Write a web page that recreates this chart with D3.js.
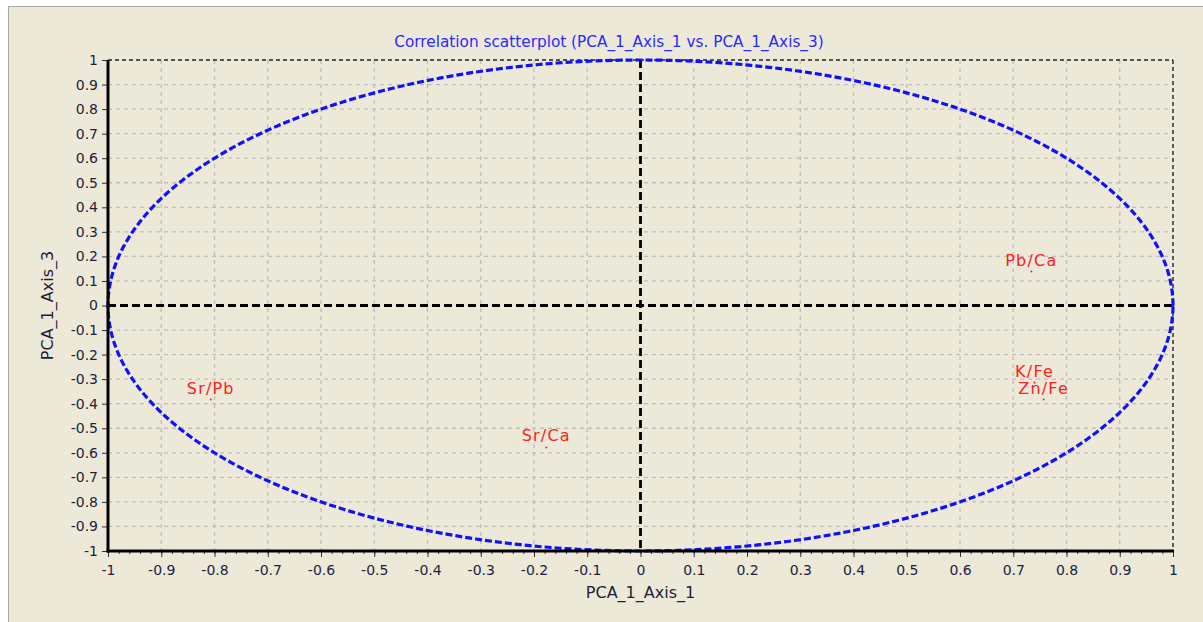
<!DOCTYPE html>
<html><head><meta charset="utf-8">
<script src="https://cdn.jsdelivr.net/npm/d3@7"></script>
<style>
html,body{margin:0;padding:0;background:#fff;}
svg{display:block;}
</style></head>
<body>
<script>
const labels = ["Pb/Ca", "K/Fe", "Zn/Fe", "Sr/Pb", "Sr/Ca"];
const axis1 = [0.734, 0.74, 0.757, -0.807, -0.177];
const axis3 = [0.138, -0.314, -0.383, -0.383, -0.578];
const majorTicks = d3.range(-10, 11).map(d => d / 10);
const minorTicks = d3.range(-50, 51).map(d => d / 50);
const title = "Correlation scatterplot (PCA_1_Axis_1 vs. PCA_1_Axis_3)";
const xTitle = "PCA_1_Axis_1", yTitle = "PCA_1_Axis_3";

const W = 1203, H = 622;
const svg = d3.select("body").append("svg").attr("width", W).attr("height", H);
svg.append("rect").attr("x", 0).attr("y", 0).attr("width", W).attr("height", H).attr("fill", "#fff");
svg.append("rect").attr("x", 8).attr("y", 6).attr("width", W - 8).attr("height", H - 6).attr("fill", "#ECE9D8");
svg.append("line").attr("x1", 8).attr("x2", W).attr("y1", 6.5).attr("y2", 6.5).attr("stroke", "#ACA899").attr("stroke-width", 1);
svg.append("line").attr("x1", 8.5).attr("x2", 8.5).attr("y1", 6).attr("y2", H).attr("stroke", "#ACA899").attr("stroke-width", 1);

const x = d3.scaleLinear().domain([-1, 1]).range([108, 1173]);
const y = d3.scaleLinear().domain([-1, 1]).range([551, 60]);
const fmt = d => (Math.abs(d) < 1e-9 ? "0" : String(+d.toFixed(1)));

const g = svg.append("g");
// grid
g.selectAll(".gx").data(majorTicks.filter(d => d > -1 && d < 1 && d !== 0)).join("line")
  .attr("x1", d => x(d)).attr("x2", d => x(d)).attr("y1", y(1)).attr("y2", y(-1))
  .attr("stroke", "#bdbdbd").attr("stroke-width", 1.3).attr("stroke-dasharray", "4,4");
g.selectAll(".gy").data(majorTicks.filter(d => d > -1 && d < 1 && d !== 0)).join("line")
  .attr("y1", d => y(d)).attr("y2", d => y(d)).attr("x1", x(-1)).attr("x2", x(1))
  .attr("stroke", "#bdbdbd").attr("stroke-width", 1.3).attr("stroke-dasharray", "4,4");

// top/right dashed border
g.append("line").attr("x1", x(-1)).attr("x2", x(1)).attr("y1", y(1)).attr("y2", y(1))
  .attr("stroke", "#222").attr("stroke-width", 1.4).attr("stroke-dasharray", "4,3");
g.append("line").attr("x1", x(1)).attr("x2", x(1)).attr("y1", y(1)).attr("y2", y(-1))
  .attr("stroke", "#222").attr("stroke-width", 1.4).attr("stroke-dasharray", "4,3");

// zero lines
g.append("line").attr("x1", x(-1)).attr("x2", x(1)).attr("y1", y(0)).attr("y2", y(0))
  .attr("stroke", "#000").attr("stroke-width", 2.8).attr("stroke-dasharray", "8,4");
g.append("line").attr("x1", x(0)).attr("x2", x(0)).attr("y1", y(1)).attr("y2", y(-1))
  .attr("stroke", "#000").attr("stroke-width", 2.8).attr("stroke-dasharray", "8,4");

// unit circle
const circ = d3.range(0, 361, 1).map(a => [Math.cos(a * Math.PI / 180), Math.sin(a * Math.PI / 180)]);
g.append("path").datum(circ)
  .attr("d", d3.line().x(d => x(d[0])).y(d => y(d[1])))
  .attr("fill", "none").attr("stroke", "#1010ff").attr("stroke-width", 3.2).attr("stroke-dasharray", "7,3");

// axes
const xAxis = svg.append("g").attr("transform", `translate(0,${y(-1)})`);
xAxis.call(d3.axisBottom(x).tickValues(minorTicks).tickSize(3).tickFormat(""))
  .call(a => a.select(".domain").remove())
  .call(a => a.selectAll("line").attr("stroke", "#333").attr("stroke-width", 1));
const xAxisMaj = svg.append("g").attr("transform", `translate(0,${y(-1)})`);
xAxisMaj.call(d3.axisBottom(x).tickValues(majorTicks).tickSize(6).tickPadding(8).tickFormat(fmt))
  .call(a => a.select(".domain").remove())
  .call(a => a.selectAll("line").attr("stroke", "#333").attr("stroke-width", 1))
  .call(a => a.selectAll("text").attr("font-family", "DejaVu Sans").attr("font-size", 14).attr("fill", "#1e1e3c"));
svg.append("line").attr("x1", x(-1) - 1.5).attr("x2", x(1) + 1).attr("y1", y(-1)).attr("y2", y(-1))
  .attr("stroke", "#000").attr("stroke-width", 3);

const yAxis = svg.append("g").attr("transform", `translate(${x(-1)},0)`);
yAxis.call(d3.axisLeft(y).tickValues(majorTicks).tickSize(6).tickPadding(4).tickFormat(fmt))
  .call(a => a.select(".domain").remove())
  .call(a => a.selectAll("line").attr("stroke", "#333").attr("stroke-width", 1))
  .call(a => a.selectAll("text").attr("font-family", "DejaVu Sans").attr("font-size", 14).attr("fill", "#1e1e3c"));
svg.append("line").attr("x1", x(-1)).attr("x2", x(-1)).attr("y1", y(1)).attr("y2", y(-1) + 1.5)
  .attr("stroke", "#000").attr("stroke-width", 3);

// titles
svg.append("text").attr("x", 609).attr("y", 47).attr("text-anchor", "middle")
  .attr("font-family", "DejaVu Sans").attr("font-size", 15.3).attr("fill", "#2a2aff").text(title);
svg.append("text").attr("x", x(0)).attr("y", 598).attr("text-anchor", "middle")
  .attr("font-family", "DejaVu Sans").attr("font-size", 16).attr("fill", "#1e1e3c").text(xTitle);
svg.append("text").attr("transform", `translate(53,${y(0)}) rotate(-90)`).attr("text-anchor", "middle")
  .attr("font-family", "DejaVu Sans").attr("font-size", 16).attr("fill", "#1e1e3c").text(yTitle);

// points and labels
const pts = labels.map((l, i) => ({l, a: axis1[i], b: axis3[i]}));
svg.selectAll(".pt").data(pts).join("circle")
  .attr("cx", d => x(d.a)).attr("cy", d => y(d.b)).attr("r", 1).attr("fill", "#ff2020");
svg.selectAll(".lb").data(pts).join("text")
  .attr("x", d => x(d.a)).attr("y", d => y(d.b) - 6).attr("text-anchor", "middle")
  .attr("font-family", "DejaVu Sans").attr("font-size", 16).attr("letter-spacing", 1.2)
  .attr("fill", "#ff2020").text(d => d.l);
</script>
</body></html>
